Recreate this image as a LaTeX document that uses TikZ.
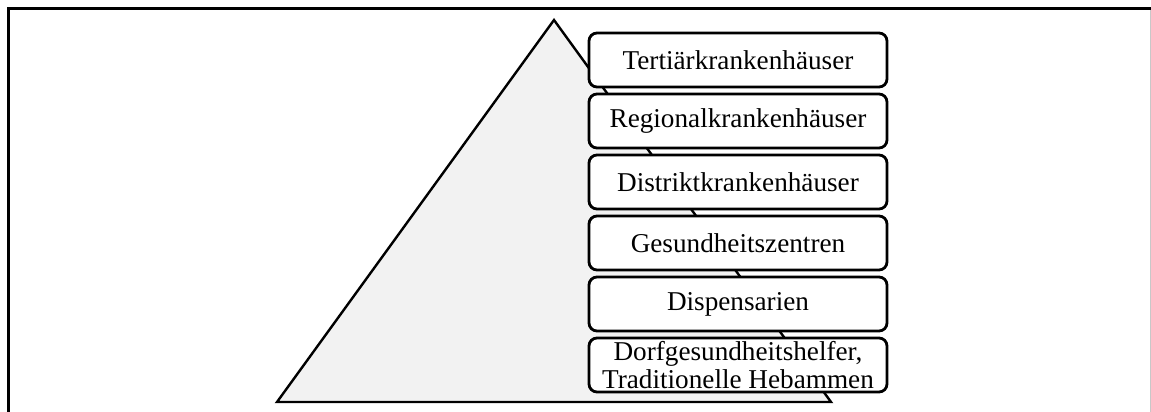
\documentclass[tikz,border=0pt]{standalone}
\usepackage{fontspec}
\setmainfont{Liberation Serif}
\definecolor{pyrfill}{RGB}{242,242,242}
\definecolor{framegrey}{RGB}{200,200,200}
\tikzset{
  levelbox/.style={draw=black, line width=1.4pt, fill=white, rounded corners=4pt,
    minimum width=149pt, minimum height=27pt, inner sep=0pt, align=center,
    font=\fontsize{13.6}{13.6}\selectfont},
  frameline/.style={line width=1.5pt, draw=black},
  pyramid/.style={draw=black, line width=1.2pt, fill=pyrfill, line join=miter}
}
\begin{document}
\begin{tikzpicture}[x=0.5pt, y=-0.5pt]
  \useasboundingbox (0,0) rectangle (1151,412);
  % frame
  \coordinate (fl) at (8,412);
  \coordinate (ftl) at (8,8.5);
  \coordinate (ftr) at (1151,8.5);
  \coordinate (frt) at (1150,10);
  \coordinate (frb) at (1150,412);
  \draw[frameline] (fl) -- (ftl) -- (ftr);
  \draw[draw=framegrey, line width=0.5pt] (frt) -- (frb);
  % pyramid
  \coordinate (apex) at (554,20);
  \coordinate (bl) at (277,402);
  \coordinate (br) at (831,402);
  \draw[pyramid] (apex) -- (br) -- (bl) -- cycle;
  % levels
  \node[levelbox] (l1) at (738,60) {Tertiärkrankenhäuser};
  \node[levelbox] (l2) at (738,121) {Regionalkrankenhäuser};
  \node[levelbox] (l3) at (738,182) {Distriktkrankenhäuser};
  \node[levelbox] (l4) at (738,243) {Gesundheitszentren};
  \node[levelbox] (l5) at (738,304) {Dispensarien};
  \node[levelbox] (l6) at (738,365) {Dorfgesundheitshelfer,\\Traditionelle Hebammen};
\end{tikzpicture}
\end{document}
